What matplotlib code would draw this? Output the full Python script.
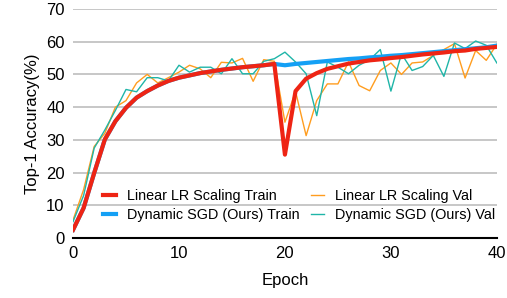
import matplotlib
matplotlib.use("Agg")
from matplotlib import pyplot as plt

plt.rcParams['font.family'] = ['Liberation Sans', 'DejaVu Sans']

epochs = list(range(41))

linear_train = [2.5, 9.2, 19.9, 30.1, 35.7, 39.8, 42.9, 44.9, 46.6, 48.0,
                49.0, 49.7, 50.4, 50.9, 51.4, 51.8, 52.2, 52.5, 52.8, 53.2,
                25.5, 44.9, 48.7, 50.4, 51.7, 52.5, 53.3, 53.8, 54.3, 54.6,
                55.0, 55.3, 55.7, 56.1, 56.4, 56.7, 57.1, 57.3, 57.8, 58.1,
                58.4]

linear_val = [5.5, 14.8, 28.0, 32.0, 40.0, 42.0, 47.4, 50.0, 47.4, 49.0,
              50.7, 52.8, 51.7, 49.0, 53.7, 53.5, 54.9, 47.9, 54.5, 54.0,
              35.4, 44.8, 31.3, 42.0, 47.1, 47.1, 53.8, 46.6, 45.0, 51.2,
              53.5, 50.0, 53.5, 53.8, 55.8, 57.6, 59.4, 48.9, 57.3, 54.3,
              59.2]

dynamic_train = [2.5, 9.2, 19.9, 30.1, 35.7, 39.8, 42.9, 44.9, 46.6, 48.0,
                 49.0, 49.7, 50.4, 50.9, 51.4, 51.8, 52.2, 52.5, 52.8, 53.2,
                 52.8, 53.2, 53.5, 53.8, 54.1, 54.4, 54.7, 54.9, 55.2, 55.4,
                 55.7, 55.9, 56.2, 56.5, 56.8, 57.1, 57.4, 57.7, 58.0, 58.3,
                 58.8]

dynamic_val = [5.0, 13.0, 27.5, 33.0, 39.0, 45.4, 44.7, 49.0, 49.0, 48.0,
               52.8, 50.7, 52.2, 52.2, 50.2, 54.8, 50.2, 50.2, 54.0, 54.8,
               56.8, 53.8, 50.2, 37.4, 53.8, 52.2, 50.2, 52.8, 54.5, 57.6,
               44.9, 56.3, 51.2, 52.4, 55.8, 49.4, 59.6, 57.9, 60.2, 58.9,
               53.5]

fig = plt.figure(figsize=(5.07, 2.98), dpi=100)
ax = fig.add_axes([0.144, 0.201, 0.836, 0.769])

ax.plot(epochs, dynamic_train, color="#14A0F5", lw=3.0, label="Dynamic SGD (Ours) Train", zorder=3)
ax.plot(epochs, linear_val, color="#FF9D1F", lw=1.0, label="Linear LR Scaling Val", zorder=2)
ax.plot(epochs, dynamic_val, color="#1FB5A8", lw=1.0, label="Dynamic SGD (Ours) Val", zorder=2)
ax.plot(epochs, linear_train, color="#EE2414", lw=3.0, label="Linear LR Scaling Train", zorder=4)

ax.set_xlim(0, 40)
ax.set_ylim(0, 70)
ax.set_xticks([0, 10, 20, 30, 40])
ax.set_yticks(range(0, 71, 10))
ax.yaxis.grid(True, color="#BDBDBD", lw=1.2)
ax.set_axisbelow(True)
for s in ["top", "right", "left"]:
    ax.spines[s].set_visible(False)
ax.spines["bottom"].set_color("black")
ax.spines["bottom"].set_linewidth(1.5)
ax.tick_params(length=0, labelsize=12, pad=6)
ax.set_xlabel("Epoch", fontsize=12, labelpad=8)
ax.set_ylabel("Top-1 Accuracy(%)", fontsize=12)

h, l = ax.get_legend_handles_labels()
order = [3, 0, 1, 2]
ax.legend([h[i] for i in order], [l[i] for i in order], ncol=2, frameon=False,
          loc="center", bbox_to_anchor=(0.534, 0.142), fontsize=10.4,
          handlelength=0.85, columnspacing=0.8, labelspacing=0.35,
          handletextpad=0.8, borderpad=0.2)

fig.savefig("out.png", dpi=100)
